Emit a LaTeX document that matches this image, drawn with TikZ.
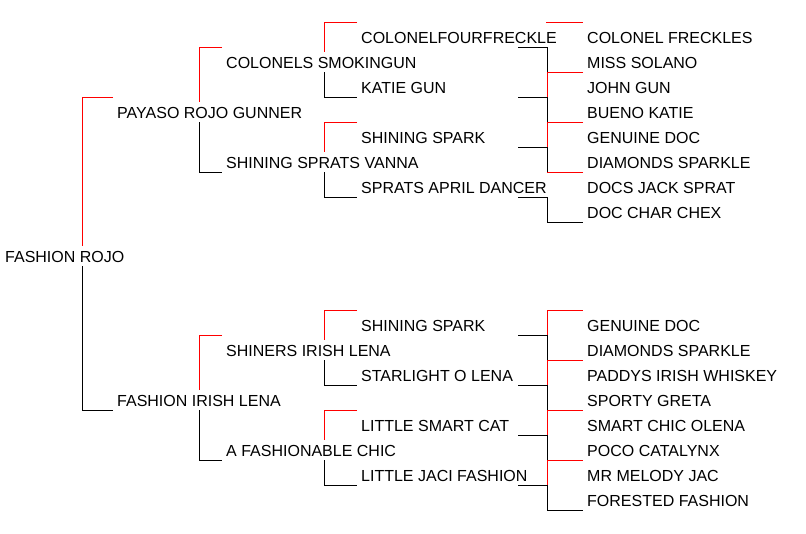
\documentclass[tikz,border=0pt]{standalone}
\usepackage{fontspec}
\setmainfont{Liberation Sans}
\begin{document}
\begin{tikzpicture}[x=1pt,y=-1pt,
  nm/.style={anchor=base west,inner sep=0pt,font=\fontsize{16}{18}\selectfont,text=black},
  sire/.style={red,line width=0.8pt},
  dam/.style={black,line width=0.8pt}]
\useasboundingbox (0,0) rectangle (806,533);
\newcommand{\nm}[3]{\node[nm] at (#1,#2+6) {#3};}
\nm{5}{256}{FASHION ROJO}
\nm{117}{112}{PAYASO ROJO GUNNER}
\nm{117}{400}{FASHION IRISH LENA}
\nm{226}{62}{COLONELS SMOKINGUN}
\nm{226}{162}{SHINING SPRATS VANNA}
\nm{226}{350}{SHINERS IRISH LENA}
\nm{226}{450}{A FASHIONABLE CHIC}
\nm{361}{37}{COLONELFOURFRECKLE}
\nm{361}{87}{KATIE GUN}
\nm{361}{137}{SHINING SPARK}
\nm{361}{187}{SPRATS APRIL DANCER}
\nm{361}{325}{SHINING SPARK}
\nm{361}{375}{STARLIGHT O LENA}
\nm{361}{425}{LITTLE SMART CAT}
\nm{361}{475}{LITTLE JACI FASHION}
\foreach \t [count=\i from 0] in {COLONEL FRECKLES,MISS SOLANO,JOHN GUN,BUENO KATIE,GENUINE DOC,DIAMONDS SPARKLE,DOCS JACK SPRAT,DOC CHAR CHEX}
  \node[nm] at (587,37+25*\i+6) {\t};
\foreach \t [count=\i from 0] in {GENUINE DOC,DIAMONDS SPARKLE,PADDYS IRISH WHISKEY,SPORTY GRETA,SMART CHIC OLENA,POCO CATALYNX,MR MELODY JAC,FORESTED FASHION}
  \node[nm] at (587,325+25*\i+6) {\t};
% gen1
\draw[sire] (113,97) -- (82,97) -- (82,246);
\draw[dam] (82,266) -- (82,410) -- (113,410);
% gen2
\foreach \c/\s/\d in {112/47/172,400/335/460}{
  \draw[sire] (222,\s) -- (199,\s) -- (199,\c-10);
  \draw[dam] (199,\c+10) -- (199,\d) -- (222,\d);}
% gen3
\foreach \c/\s/\d in {62/22/97,162/122/197,350/310/385,450/410/485}{
  \draw[sire] (357,\s) -- (324,\s) -- (324,\c-10);
  \draw[dam] (324,\c+10) -- (324,\d) -- (357,\d);}
% gen4 bottom
\foreach \c in {335,385,435,485}{
  \draw[dam] (518,\c) -- (547,\c);
  \draw[sire] (547,\c) -- (547,\c-25) -- (583,\c-25);
  \draw[dam] (547,\c) -- (547,\c+25) -- (583,\c+25);}
% gen4 top (as printed)
\draw[sire] (546,22) -- (583,22);
\foreach \c in {47,97,147}{
  \draw[dam] (518,\c) -- (547,\c) -- (547,\c+25);}
\foreach \c in {72,122,172}{
  \draw[sire] (583,\c) -- (547,\c);}
\draw[sire] (547,72) -- (547,97);
\draw[sire] (547,122) -- (547,147);
\draw[dam] (518,197) -- (547,197) -- (547,222) -- (583,222);
\end{tikzpicture}
\end{document}
